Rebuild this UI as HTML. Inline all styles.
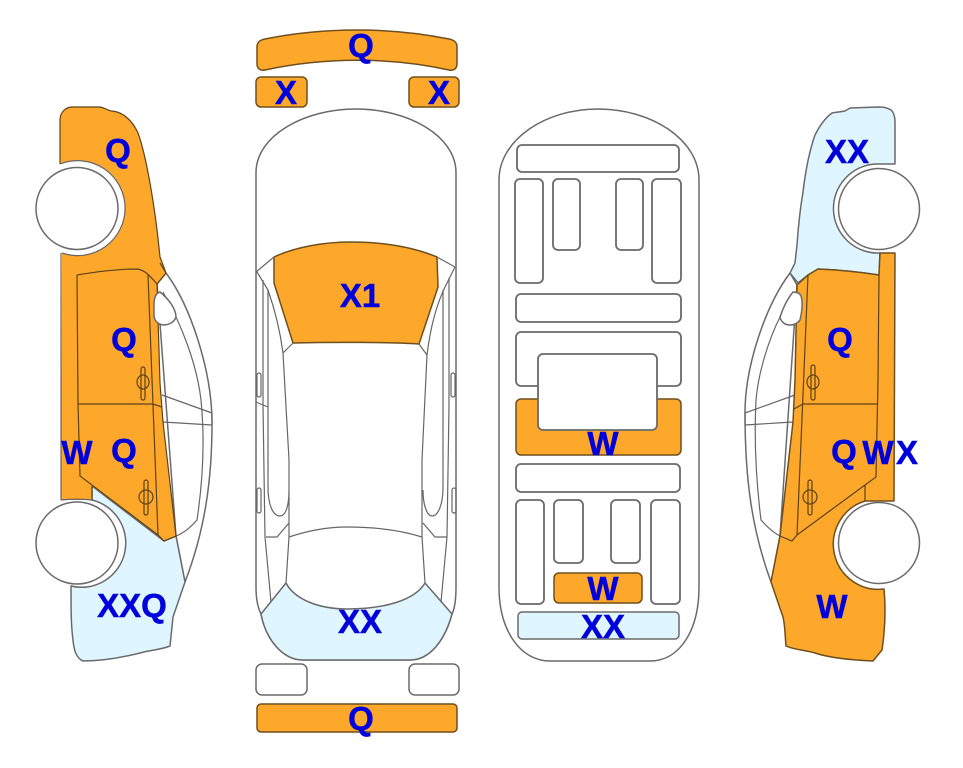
<!DOCTYPE html>
<html><head><meta charset="utf-8"><style>
html,body{margin:0;padding:0;background:#fff}
svg{display:block}
text{font-family:"Liberation Sans",Arial,sans-serif;font-weight:bold;font-size:33px;fill:#0000dc;text-anchor:middle;stroke:#0000dc;stroke-width:.5px}
.o{fill:#fea82b;stroke:#6e4f1e;stroke-width:1.5;stroke-linejoin:round}
.b{fill:#dff5ff;stroke:#6a6a6a;stroke-width:1.5;stroke-linejoin:round}
.w{fill:#fff;stroke:#6a6a6a;stroke-width:1.5;stroke-linejoin:round}
.r{fill:#fff;stroke:#6a6a6a;stroke-width:1.8}
.l{fill:none;stroke:#666;stroke-width:1.2}
.d{fill:none;stroke:#5c4318;stroke-width:1.2}
</style></head><body>
<svg width="963" height="768" viewBox="0 0 963 768" xmlns="http://www.w3.org/2000/svg">
<!-- LEFT CAR -->
<path class="w" d="M166 273C190 305 212 370 212 423C212 480 205 530 185 582L176 536L157 284Z"/>
<path class="l" d="M163 292C182 325 197 365 201 400C205 440 203 480 197 520C190 528 184 533 176 536"/>
<path class="l" d="M162 395L212 413M163 422L212 425M212 413V425"/>
<path class="b" d="M92 486L164 541L176 536L185 582L173 617L170 646C160 650 150 650 140 653C120 658 100 661 83 661C76 658 74 650 73 640C71 625 71 610 71 586A44 44 0 0 0 92 500Z"/>
<path class="o" style="stroke:none" d="M60 164V120C60 112 66 107 72 107L100 107C106 108 108 111 112 111C124 112 133 122 138 133C146 155 155 205 160 257L166 273L157 284L160 383L163 422L176 536L164 541L158 535L92 486V500H61L62 253A47.500 47.500 0 1 0 60 164Z"/>
<path class="d" d="M60 164V120C60 112 66 107 72 107L100 107C106 108 108 111 112 111C124 112 133 122 138 133C146 155 155 205 160 257L166 273"/>
<path class="l" d="M61 253V500M61 500C72 499 82 499 92 500M62 253A47.500 47.500 0 1 0 60 164"/>
<path class="d" d="M160 263L166 273L157 284M77 275C95 272 115 269 137 269C145 270 150 276 157 284L160 383L163 422L176 536L164 541L158 535L80 476L78 404L77 275M148 275L158 535M78 404H153L162 407M92 486V500"/>
<path class="w" d="M160 292C170 300 176 310 176 317C174 323 168 325 163 325C157 324 154 320 154 315V305C154 298 156 293 160 292Z"/>
<ellipse class="d" cx="143" cy="382" rx="6" ry="7"/><rect class="d" x="141" y="367" width="4" height="33" rx="2"/>
<ellipse class="d" cx="146" cy="497" rx="7" ry="7"/><rect class="d" x="144" y="480" width="4" height="35" rx="2"/>
<circle class="w" cx="77" cy="208.500" r="41"/>
<circle class="w" cx="77" cy="543" r="41"/>
<!-- TOP CAR -->
<path class="o" d="M257 47C257 42 260 40 265 39C325 27 390 27 449 39C454 40 457 42 457 47V64C457 69 453 71 449 70C390 57 325 57 265 70C261 71 257 69 257 64Z"/>
<rect class="o" x="256" y="77" width="51" height="30" rx="5"/>
<rect class="o" x="409" y="77" width="50" height="30" rx="5"/>
<path class="w" d="M256 173C256 135 305 109 356 109C407 109 456 135 456 173V587C456 600 455 608 452 614C445 640 430 660 410 660H303C283 660 266 640 261 614C258 608 256 600 256 587Z"/>
<path class="b" d="M261 614L286 583C295 600 320 609 347 609C385 609 415 600 425 583L452 614C445 640 430 660 410 660H303C283 660 266 640 261 614Z"/>
<path class="o" d="M274 257C295 247 325 242 350 242C385 242 415 248 437 257L438 287L419 344C390 342 330 342 293 343L274 283Z"/>
<path class="l" d="M256 272L274 257M437 257L455 267M257 272L268 290C275 310 280 330 283 353L293 343M455 267L446 285C436 305 430 330 427 355L419 344"/>
<path class="l" d="M283 353L289 460V537L286 583M427 355L422 460V537L425 583M289 537C310 530 330 527 347 527C375 527 400 530 422 537M263 280V405L265 537L271 602M268 290V487C268 505 273 516 280 516C286 516 289 505 289 490M449 278V405L447 537L441 602M443 290V487C443 505 438 516 432 516C427 516 423 505 423 490M266 537H277L289 523M423 523L435 537H447M256 402L263 405L268 407"/>
<rect class="l" x="257" y="373" width="4" height="24" rx="2"/><rect class="l" x="257" y="488" width="4" height="25" rx="2"/>
<rect class="l" x="451" y="373" width="4" height="24" rx="2"/><rect class="l" x="452" y="488" width="4" height="25" rx="2"/>
<rect class="w" x="256" y="664" width="51" height="31" rx="6"/>
<rect class="w" x="409" y="664" width="50" height="31" rx="6"/>
<rect class="o" x="257" y="704" width="200" height="28" rx="4"/>
<!-- THIRD CAR -->
<path class="w" d="M499 180C499 140 545 109 598 109C652 109 699 140 699 180V587C699 630 680 661 650 661H550C520 661 499 630 499 587Z"/>
<rect class="r" x="517" y="145" width="162" height="27" rx="5"/>
<rect class="r" x="515" y="179" width="28" height="104" rx="5"/>
<rect class="r" x="553" y="179" width="27" height="71" rx="5"/>
<rect class="r" x="616" y="179" width="27" height="71" rx="5"/>
<rect class="r" x="652" y="179" width="29" height="104" rx="5"/>
<rect class="r" x="516" y="294" width="165" height="28" rx="5"/>
<rect class="r" x="516" y="332" width="165" height="54" rx="5"/>
<rect class="o" x="516" y="399" width="165" height="56" rx="5"/>
<rect class="r" x="538" y="354" width="119" height="76" rx="5"/>
<rect class="r" x="516" y="464" width="164" height="28" rx="5"/>
<rect class="r" x="516" y="500" width="28" height="104" rx="5"/>
<rect class="r" x="554" y="500" width="29" height="63" rx="5"/>
<rect class="r" x="611" y="500" width="29" height="63" rx="5"/>
<rect class="r" x="651" y="500" width="29" height="104" rx="5"/>
<rect class="o" x="554" y="573" width="88" height="30" rx="5"/>
<rect class="b" x="518" y="612" width="161" height="27" rx="4"/>
<!-- RIGHT CAR -->
<path class="w" d="M790 273C766 305 745 365 745 413C745 480 752 530 771 582L780 536L797 285Z"/>
<path class="l" d="M781 315C768 340 758 375 756 400C754 440 756 480 761 520C768 528 774 533 780 536"/>
<path class="l" d="M795 395L745 413M793 422L745 425M745 413V425"/>
<path class="b" d="M895 164V122C895 116 893 110 889 109C885 107 882 107 878 107L850 108L845 111C840 112 836 112 832 113C825 118 820 125 815 135C808 155 805 175 803 192C800 210 798 230 797 245L795 263L790 273L798 283L808 275L818 269C840 270 860 272 879 275L880 253A44 44 0 0 1 876 164Z"/>
<path class="o" d="M808 275L818 269C840 270 860 272 879 275L880 253H895L894 501H865A45.200 45.200 0 0 0 884 589C886 610 885 630 882 650L873 661C850 660 830 658 815 653C805 650 795 650 786 646C785 635 785 625 783 617L771 582L780 536L793 422L795 380L797 285Z"/>
<path class="d" d="M879 275L878 380L876 477L865 485M865 485V501M865 485L797 535L792 541L780 536M808 275L803 395L797 535M794 409L803 404H878"/>
<path class="w" d="M793 292C796 292 800 293 801 296C803 302 802 312 800 320C797 324 793 325 790 325C785 325 781 322 780 317C783 308 788 298 793 292Z"/>
<ellipse class="d" cx="813" cy="382" rx="6" ry="7"/><rect class="d" x="811" y="365" width="4" height="35" rx="2"/>
<ellipse class="d" cx="810" cy="497" rx="7" ry="7"/><rect class="d" x="808" y="480" width="4" height="35" rx="2"/>
<circle class="w" cx="879" cy="209" r="40.500"/>
<circle class="w" cx="879" cy="543" r="40.500"/>
<!-- LABELS -->
<text x="118" y="162">Q</text>
<text x="124" y="351">Q</text>
<text x="77" y="464">W</text>
<text x="124" y="462">Q</text>
<text x="132" y="617">XXQ</text>
<text x="361" y="57">Q</text>
<text x="286" y="104">X</text>
<text x="439" y="104">X</text>
<text x="360" y="307">X1</text>
<text x="360" y="633">XX</text>
<text x="361" y="730">Q</text>
<text x="603" y="455">W</text>
<text x="603" y="600">W</text>
<text x="603" y="638">XX</text>
<text x="847" y="163">XX</text>
<text x="840" y="351">Q</text>
<text x="844" y="463">Q</text>
<text x="878" y="464">W</text>
<text x="907" y="464">X</text>
<text x="832" y="618">W</text>
</svg>
</body></html>
